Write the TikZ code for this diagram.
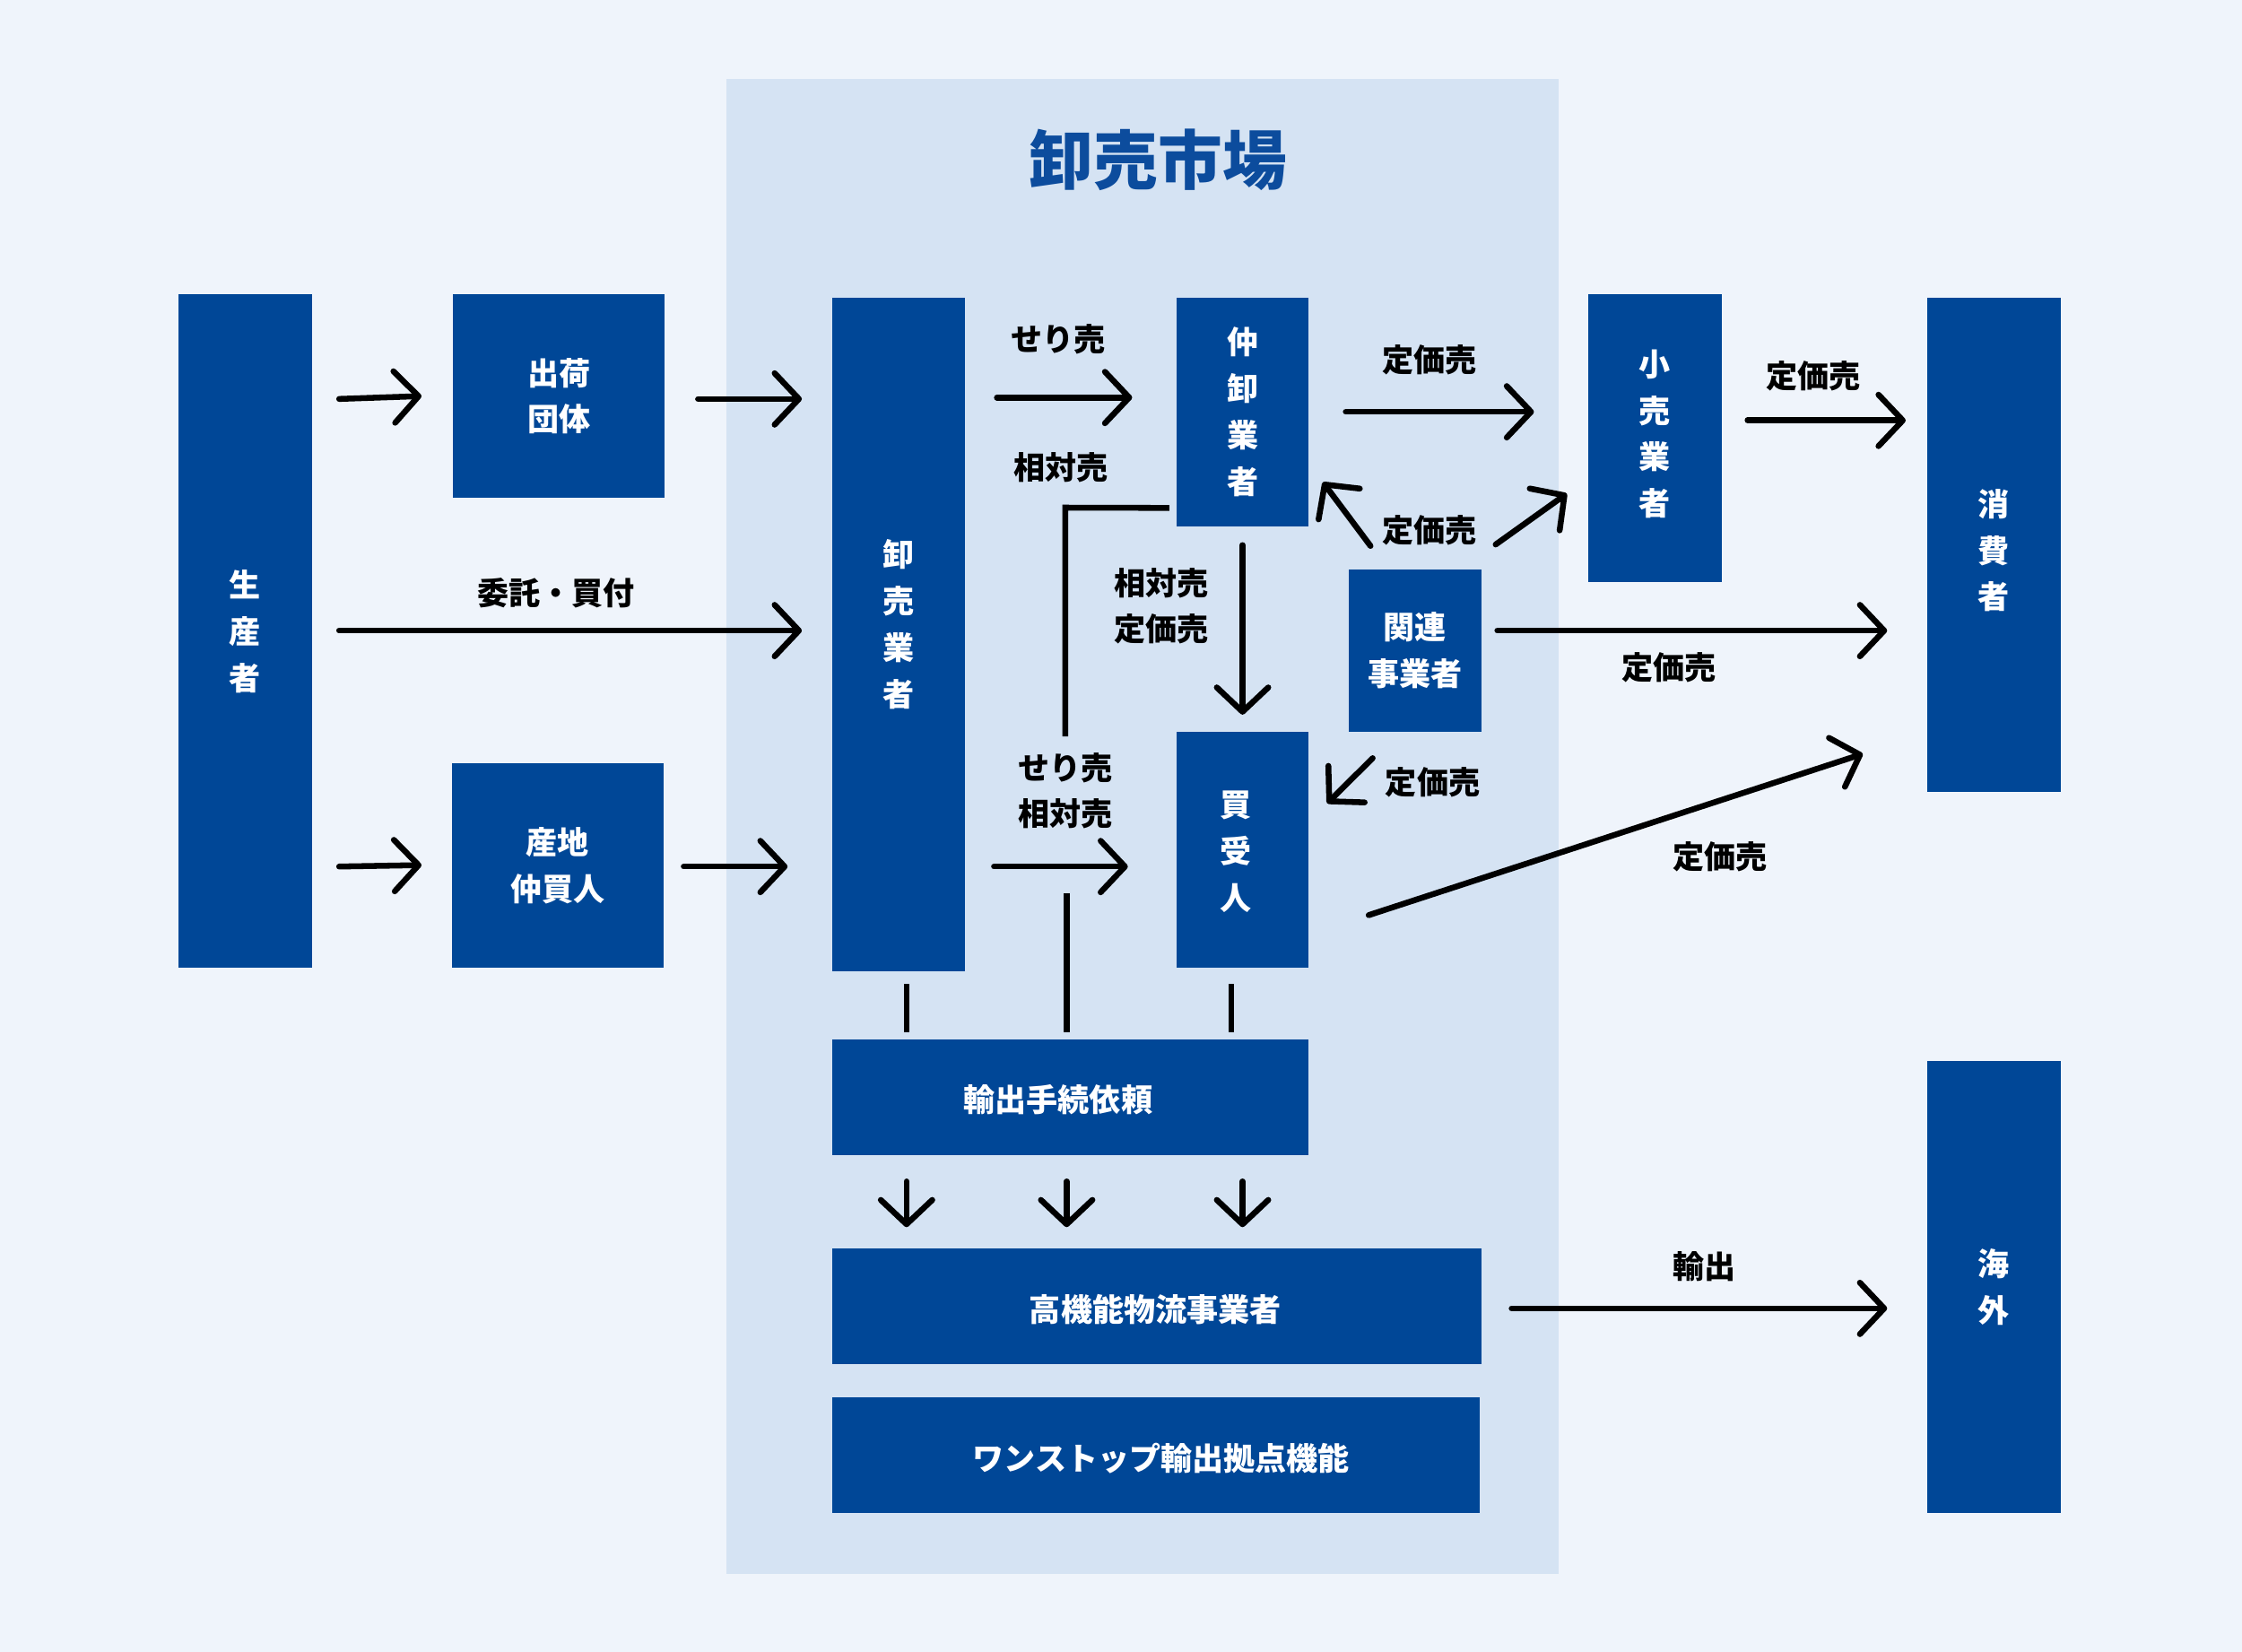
\documentclass[tikz,border=0pt]{standalone}
\usepackage{fontspec}
\setmainfont{Noto Sans CJK JP}
\usetikzlibrary{arrows.meta}
\definecolor{bg}{RGB}{239,244,251}
\definecolor{mkt}{RGB}{213,227,243}
\definecolor{boxblue}{RGB}{0,71,151}
\definecolor{titleblue}{RGB}{12,76,157}
\begin{document}
\begin{tikzpicture}[x=1pt,y=-1pt,
 box/.style={fill=boxblue, text=white, inner sep=0pt, align=center, font=\fontsize{22}{32.5}\selectfont\bfseries},
 btxt/.style={text=white, inner sep=0pt, align=center, font=\fontsize{22}{32.5}\selectfont\bfseries},
 lbl/.style={text=black, inner sep=0pt, align=center, font=\fontsize{22}{32}\selectfont\bfseries},
 arr/.style={line width=4.1pt, line cap=round, -{Straight Barb[length=17pt,width=36pt,round]}},
 ln/.style={line width=4.1pt}]
\fill[bg] (0,0) rectangle (1568,1155);
\useasboundingbox (0,0) rectangle (1568,1155);
\fill[mkt] (508,55) rectangle (1090,1101);
\node[text=titleblue, font=\fontsize{45}{50}\selectfont\bfseries, inner sep=0pt] (title) at (810,112) {卸売市場};

% boxes
\node[box, minimum width=93pt, minimum height=471pt] (seisan) at (171.5,441.5) {生\\産\\者};
\node[box, minimum width=148pt, minimum height=142pt] (shukka) at (391,277) {出荷\\団体};
\node[box, minimum width=148pt, minimum height=143pt] (sanchi) at (390,605.5) {産地\\仲買人};
\node[box, minimum width=93pt, minimum height=471pt] (oroshi) at (628.5,443.5) {};
\node[btxt] (oroshiT) at (628.5,436.5) {卸\\売\\業\\者};
\node[box, minimum width=92pt, minimum height=160pt] (naka) at (869,288) {仲\\卸\\業\\者};
\node[box, minimum width=92pt, minimum height=165pt] (kaiuke) at (869,594.5) {};
\node[btxt] (kaiukeT) at (864,595.5) {買\\受\\人};
\node[box, minimum width=93pt, minimum height=114pt] (kanren) at (989.5,455) {関連\\事業者};
\node[box, minimum width=93pt, minimum height=201pt] (kouri) at (1157.5,306.5) {};
\node[btxt] (kouriT) at (1157.5,303.5) {小\\売\\業\\者};
\node[box, minimum width=93pt, minimum height=346pt] (shohi) at (1394.5,381) {};
\node[btxt] (shohiT) at (1394.5,385) {消\\費\\者};
\node[box, minimum width=93pt, minimum height=316pt] (kaigai) at (1394.5,900) {海\\外};
\node[box, minimum width=333pt, minimum height=81pt] (yushutsu) at (748.5,767.5) {};
\node[btxt] (yushutsuT) at (740,769) {輸出手続依頼};
\node[box, minimum width=454pt, minimum height=81pt] (koukinou) at (809,913.5) {};
\node[btxt] (koukinouT) at (808,916) {高機能物流事業者};
\node[box, minimum width=453pt, minimum height=81pt] (onestop) at (808.5,1017.5) {};
\node[btxt] (onestopT) at (812,1020) {ワンストップ輸出拠点機能};

% arrows
\draw[arr] ([xshift=19]seisan.east |- 0,279) -- ([xshift=-22]shukka.west |- 0,277);
\draw[arr] ([xshift=23]shukka.east |- 0,279) -- ([xshift=-21]oroshi.west |- 0,279);
\draw[arr] ([xshift=19]seisan.east |- 0,441) -- ([xshift=-21]oroshi.west |- 0,441);
\draw[arr] ([xshift=19]seisan.east |- 0,606) -- ([xshift=-21]sanchi.west |- 0,605);
\draw[arr] ([xshift=14]sanchi.east |- 0,606) -- ([xshift=-31]oroshi.west |- 0,606);
\draw[arr] ([xshift=22]oroshi.east |- 0,278) -- ([xshift=-31]naka.west |- 0,278);
\draw[arr] ([xshift=26]naka.east |- 0,288) -- ([xshift=-38]kouri.west |- 0,288);
\draw[arr] ([xshift=18]kouri.east |- 0,294) -- ([xshift=-15]shohi.west |- 0,294);
\draw[arr] ([shift={(-31,-16)}]kanren.north) -- ([shift={(10,-31)}]naka.south east);
\draw[arr] ([shift={(56.5,-17)}]kanren.north) -- ([shift={(-15,-62)}]kouri.south west);
\draw[arr] ([shift={(0,13)}]naka.south) -- ([shift={(0,-12)}]kaiuke.north);
\draw[arr] ([xshift=11]kanren.east |- 0,441) -- ([xshift=-28]shohi.west |- 0,441);
\draw[arr] ([shift={(-29.5,18)}]kanren.south) -- ([shift={(13,50)}]kaiuke.north east);
\draw[arr] ([xshift=20]oroshi.east |- 0,606) -- ([xshift=-34]kaiuke.west |- 0,606);
\draw[arr] ([shift={(42,45.5)}]kaiuke.east) -- ([shift={(-45,-27)}]shohi.south west);
\draw[arr] ([xshift=21]koukinou.east |- 0,915) -- ([xshift=-28]kaigai.west |- 0,915);

% lines to export request
\draw[ln] ([shift={(-5,-13)}]naka.south west) -- (745,355) -- (745,515);
\draw[ln] ([shift={(5.5,9)}]oroshi.south) -- ++(0,34);
\draw[ln] ([shift={(-2.5,-5)}]yushutsu.north) -- ++(0,-97);
\draw[ln] ([shift={(-8,11)}]kaiuke.south) -- ++(0,34);

% down arrows
\draw[arr] ([shift={(-114.5,18)}]yushutsu.south) -- ++(0,32);
\draw[arr] ([shift={(-2.5,18)}]yushutsu.south) -- ++(0,32);
\draw[arr] ([shift={(120.5,18)}]yushutsu.south) -- ++(0,32);

% labels
\node[lbl] (l1) at (389,415) {委託・買付};
\node[lbl] (l2) at (740,237) {せり売};
\node[lbl] (l3) at (742,327) {相対売};
\node[lbl] (l4) at (1000,252) {定価売};
\node[lbl] (l5) at (1268,263) {定価売};
\node[lbl] (l6) at (1000,371) {定価売};
\node[lbl] (l7) at (812,424) {相対売\\定価売};
\node[lbl] (l8) at (1167,467) {定価売};
\node[lbl] (l9) at (1002,547) {定価売};
\node[lbl] (l10) at (745,553) {せり売\\相対売};
\node[lbl] (l11) at (1203,599) {定価売};
\node[lbl] (l12) at (1192,886) {輸出};
\end{tikzpicture}
\end{document}
